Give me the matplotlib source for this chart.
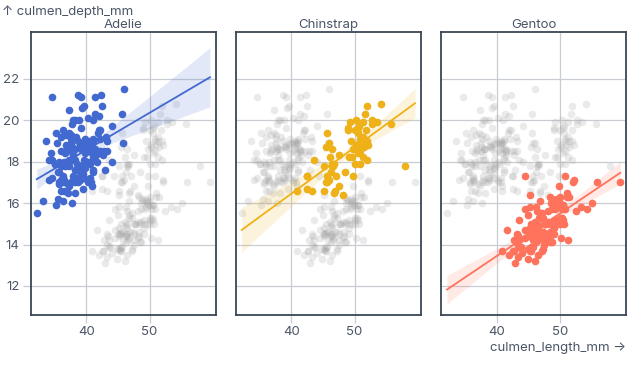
import numpy as np
import matplotlib
matplotlib.use("Agg")
import matplotlib.pyplot as plt

species = ["Adelie", "Chinstrap", "Gentoo"]
colors = ["#4269d0", "#efb118", "#ff725c"]

adelie = [
(39.1,18.7),(39.5,17.4),(40.3,18.0),(36.7,19.3),(39.3,20.6),(38.9,17.8),(39.2,19.6),(34.1,18.1),(42.0,20.2),(37.8,17.1),
(37.8,17.3),(41.1,17.6),(38.6,21.2),(34.6,21.1),(36.6,17.8),(38.7,19.0),(42.5,20.7),(34.4,18.4),(46.0,21.5),(37.8,18.3),
(37.7,18.7),(35.9,19.2),(38.2,18.1),(38.8,17.2),(35.3,18.9),(40.6,18.6),(40.5,17.9),(37.9,18.6),(40.5,18.9),(39.5,16.7),
(37.2,18.1),(39.5,17.8),(40.9,18.9),(36.4,17.0),(39.2,21.1),(38.8,20.0),(42.2,18.5),(37.6,19.3),(39.8,19.1),(36.5,18.0),
(40.8,18.4),(36.0,18.5),(44.1,19.7),(37.0,16.9),(39.6,18.8),(41.1,19.0),(37.5,18.9),(36.0,17.9),(42.3,21.2),(39.6,17.7),
(40.1,18.9),(35.0,17.9),(42.0,19.5),(34.5,18.1),(41.4,18.6),(39.0,17.5),(40.6,18.8),(36.5,16.6),(37.6,19.1),(35.7,16.9),
(41.3,21.1),(37.6,17.0),(41.1,18.2),(36.4,17.1),(41.6,18.0),(35.5,16.2),(41.1,19.1),(35.9,16.6),(41.8,19.4),(33.5,19.0),
(39.7,18.4),(39.6,17.2),(45.8,18.9),(35.5,17.5),(42.8,18.5),(40.9,16.8),(37.2,19.4),(36.2,16.1),(42.1,19.1),(34.6,17.2),
(42.9,17.6),(36.7,18.8),(35.1,19.4),(37.3,17.8),(41.3,20.3),(36.3,19.5),(36.9,18.6),(38.3,19.2),(38.9,18.8),(35.7,18.0),
(41.1,18.1),(34.0,17.1),(39.6,18.1),(36.2,17.3),(40.8,18.9),(38.1,18.6),(40.3,18.5),(33.1,16.1),(43.2,18.5),(35.0,17.9),
(41.0,20.0),(37.7,16.0),(37.8,20.0),(37.9,18.6),(39.7,18.9),(38.6,17.2),(38.2,20.0),(38.1,17.0),(43.2,19.0),(38.1,16.5),
(45.6,20.3),(39.7,17.7),(42.2,19.5),(39.6,20.7),(42.7,18.3),(38.6,17.0),(37.3,20.5),(35.7,17.0),(41.1,18.6),(36.2,17.2),
(37.7,19.8),(40.2,17.0),(41.4,18.5),(35.2,15.9),(40.6,19.0),(38.8,17.6),(41.5,18.3),(39.0,17.1),(44.1,18.0),(38.5,17.9),
(43.1,19.2),(36.8,18.5),(37.5,18.5),(38.1,17.6),(41.1,17.5),(35.6,17.5),(40.2,20.1),(37.0,16.5),(39.7,17.9),(40.2,17.1),
(40.6,17.2),(32.1,15.5),(40.7,17.0),(37.3,16.8),(39.0,18.7),(39.2,18.6),(36.6,18.4),(36.0,17.8),(37.8,18.1),(36.0,17.1),
(41.5,18.5)]

chinstrap = [
(46.5,17.9),(50.0,19.5),(51.3,19.2),(45.4,18.7),(52.7,19.8),(45.2,17.8),(46.1,18.2),(51.3,18.2),(46.0,18.9),(51.3,19.9),
(46.6,17.8),(51.7,20.3),(47.0,17.3),(52.0,18.1),(45.9,17.1),(50.5,19.6),(50.3,20.0),(58.0,17.8),(46.4,18.6),(49.2,18.2),
(42.4,17.3),(48.5,17.5),(43.2,16.6),(50.6,19.4),(46.7,17.9),(52.0,19.0),(50.5,18.4),(49.5,19.0),(46.4,17.8),(52.8,20.0),
(40.9,16.6),(54.2,20.8),(42.5,16.7),(51.0,18.8),(49.7,18.6),(47.5,16.8),(47.6,18.3),(52.0,20.7),(46.9,16.6),(53.5,19.9),
(49.0,19.5),(46.2,17.5),(50.9,19.1),(45.5,17.0),(50.9,17.9),(50.8,18.5),(50.1,17.9),(49.0,19.6),(51.5,18.7),(49.8,17.3),
(48.1,16.4),(51.4,19.0),(45.7,17.3),(50.7,19.7),(42.5,17.3),(52.2,18.8),(45.2,16.6),(49.3,19.9),(50.2,18.8),(45.6,19.4),
(51.9,19.5),(46.8,16.5),(45.7,17.0),(55.8,19.8),(43.5,18.1),(49.6,18.2),(50.8,19.0),(50.2,18.7)]

gentoo = [
(46.1,13.2),(50.0,16.3),(48.7,14.1),(50.0,15.2),(47.6,14.5),(46.5,13.5),(45.4,14.6),(46.7,15.3),(43.3,13.4),(46.8,15.4),
(40.9,13.7),(49.0,16.1),(45.5,13.7),(48.4,14.6),(45.8,14.6),(49.3,15.7),(42.0,13.5),(49.2,15.2),(46.2,14.5),(48.7,15.1),
(50.2,14.3),(45.1,14.5),(46.5,14.5),(46.3,15.8),(42.9,13.1),(46.1,15.1),(44.5,14.3),(47.8,15.0),(48.2,14.3),(50.0,15.3),
(47.3,15.3),(42.8,14.2),(45.1,14.5),(59.6,17.0),(49.1,14.8),(48.4,16.3),(42.6,13.7),(44.4,17.3),(44.0,13.6),(48.7,15.7),
(42.7,13.7),(49.6,16.0),(45.3,13.7),(49.6,15.0),(50.5,15.9),(43.6,13.9),(45.5,13.9),(50.5,15.9),(44.9,13.3),(45.2,15.8),
(46.6,14.2),(48.5,14.1),(45.1,14.4),(50.1,15.0),(46.5,14.4),(45.0,15.4),(43.8,13.9),(45.5,15.0),(43.2,14.5),(50.4,15.3),
(45.3,13.8),(46.2,14.9),(45.7,13.9),(54.3,15.7),(45.8,14.2),(49.8,16.8),(46.2,14.4),(49.5,16.2),(43.5,14.2),(50.7,15.0),
(47.7,15.0),(46.4,15.6),(48.2,15.6),(46.5,14.8),(46.4,15.0),(48.6,16.0),(47.5,14.2),(51.1,16.3),(45.2,13.8),(45.2,16.4),
(49.1,14.5),(52.5,15.6),(47.4,14.6),(50.0,15.9),(44.9,13.8),(50.8,17.3),(43.4,14.4),(51.3,14.2),(47.5,14.0),(52.1,17.0),
(47.5,15.0),(52.2,17.1),(45.5,14.5),(49.5,16.1),(44.5,14.7),(50.8,15.7),(49.4,15.8),(46.9,14.6),(48.4,14.4),(51.1,16.5),
(48.5,15.0),(55.9,17.0),(47.2,15.5),(49.1,15.0),(47.3,13.8),(46.8,16.1),(41.7,14.7),(53.4,15.8),(43.3,14.0),(48.1,15.1),
(50.5,15.2),(49.8,15.9),(43.5,15.2),(51.5,16.3),(46.2,14.1),(55.1,16.0),(44.5,15.7),(48.8,16.2),(47.2,13.7),(46.8,14.3),
(50.4,15.7),(45.2,14.8),(49.9,16.1)]

groups = [np.array(adelie), np.array(chinstrap), np.array(gentoo)]
allpts = np.vstack(groups)

x_ticks = [40, 50]
y_ticks = [12, 14, 16, 18, 20, 22]

text_c = "#4a5566"
grid_c = "#c8cdd3"
frame_c = "#3a4656"
FS = 9.5

plt.rcParams['font.family'] = ['Inter', 'DejaVu Sans']
fig = plt.figure(figsize=(6.4, 3.71), dpi=100)

lefts = [30.7, 235.7, 441.0]
W = 185.3
top_px, bot_px = 32.0, 315.0

def tq(df):
    return 1.96 + 2.4 / df

for i, (sp, col, pts) in enumerate(zip(species, colors, groups)):
    ax = fig.add_axes([lefts[i] / 640, (371 - bot_px) / 371, W / 640, (bot_px - top_px) / 371])
    ax.set_xlim(31.15, 60.55)
    ax.set_ylim(10.6, 24.25)
    ax.set_xticks(x_ticks)
    ax.set_yticks(y_ticks)
    ax.grid(True, color=grid_c, linewidth=0.9, zorder=0)
    ax.tick_params(length=6, color=grid_c, width=0.9, labelsize=FS, labelcolor=text_c, pad=2)
    if i > 0:
        ax.tick_params(axis='y', labelleft=False, left=False)
    for s in ax.spines.values():
        s.set_color(frame_c)
        s.set_linewidth(1.3)
    ax.scatter(allpts[:, 0], allpts[:, 1], s=30, color="#a0a0a0", alpha=0.22, linewidths=0, zorder=2)
    ax.scatter(pts[:, 0], pts[:, 1], s=30, color=col, linewidths=0, zorder=3)
    # regression
    x, y = pts[:, 0], pts[:, 1]
    n = len(x)
    b, a = np.polyfit(x, y, 1)
    resid = y - (a + b * x)
    s2 = np.sum(resid ** 2) / (n - 2)
    xm = x.mean()
    sxx = np.sum((x - xm) ** 2)
    xs = np.linspace(allpts[:, 0].min(), allpts[:, 0].max(), 100)
    ys = a + b * xs
    se = np.sqrt(s2 * (1 / n + (xs - xm) ** 2 / sxx))
    t = tq(n - 2)
    ax.fill_between(xs, ys - t * se, ys + t * se, color=col, alpha=0.15, linewidth=0, zorder=4)
    ax.plot(xs, ys, color=col, linewidth=1.3, zorder=5)
    ax.set_title(sp, fontsize=FS, color=text_c, pad=3)

fig.text(2 / 640, 1 - 12 / 371, "↑ culmen_depth_mm", fontsize=FS, color=text_c, va="center", ha="left")
fig.text(626 / 640, 1 - 348 / 371, "culmen_length_mm →", fontsize=FS, color=text_c, va="center", ha="right")

fig.savefig("out.png", dpi=100)
